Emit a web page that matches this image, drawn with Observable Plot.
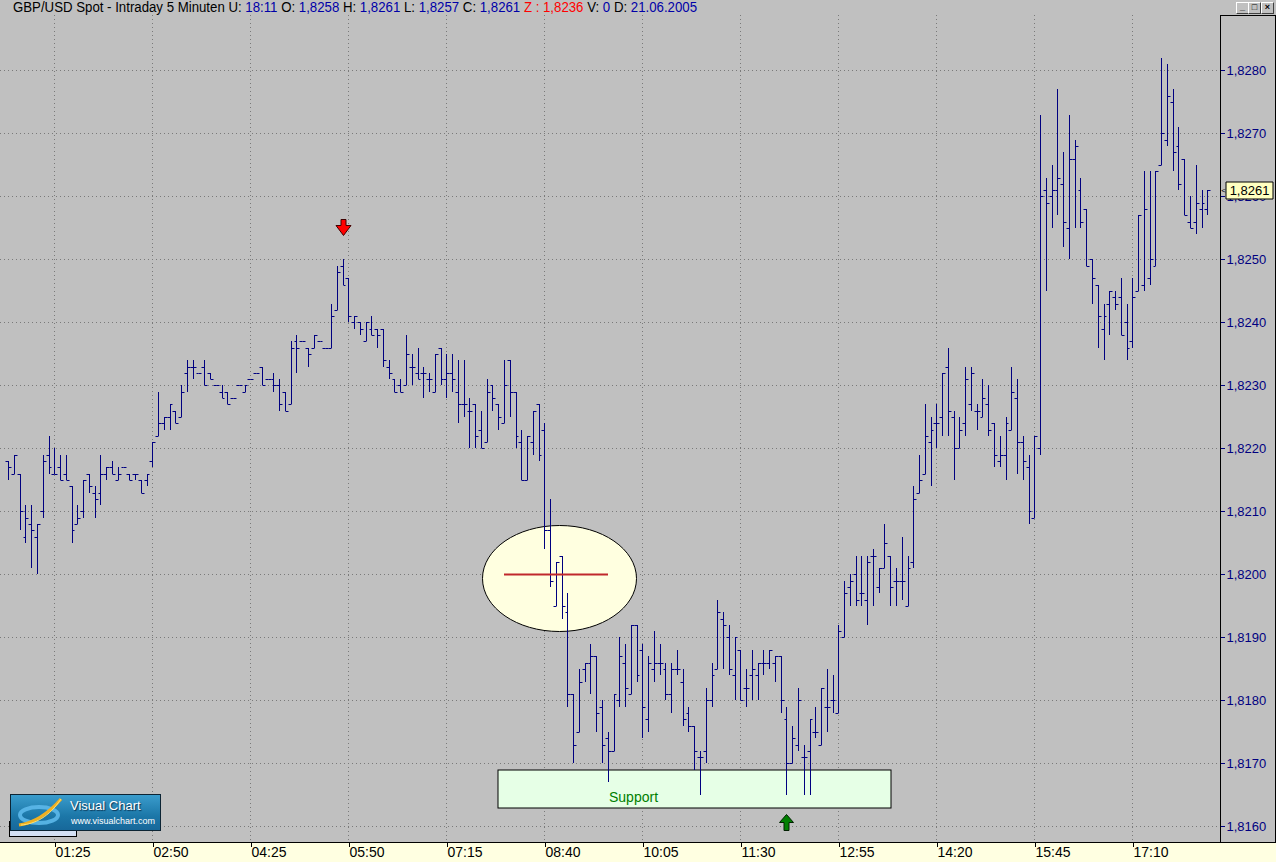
<!DOCTYPE html>
<html>
<head>
<meta charset="utf-8">
<script src="https://cdn.jsdelivr.net/npm/d3@7"></script>
<script src="https://cdn.jsdelivr.net/npm/@observablehq/plot@0.6"></script>
<style>
html,body{margin:0;padding:0;}
body{width:1276px;height:862px;overflow:hidden;background:#c0c0c0;position:relative;font-family:"Liberation Sans",Arial,sans-serif;}
#hdr{position:absolute;left:13px;top:0;height:15px;line-height:15px;font-size:14px;color:#000;white-space:nowrap;transform-origin:0 0;}
#hdr .v{color:#0000a8;}
#hdr .z{color:#ff0000;}
.btn{position:absolute;top:2px;width:11px;height:10px;background:#c0c0c0;border:1px solid;border-color:#fff #404040 #404040 #fff;font-size:9px;line-height:9px;text-align:center;color:#000;font-weight:bold;}
#rightbox{position:absolute;left:1220px;top:15px;width:54px;height:826px;border:1px solid #000;border-bottom:none;}
#bottom{position:absolute;left:0;top:842px;width:1276px;height:20px;background:#ffffe1;border-top:1px solid #000;}
#chart{position:absolute;left:0;top:15px;}
#lb{position:absolute;left:9px;top:821px;width:66px;height:14px;background:#d4e0f4;border:1px solid #000;}
#logo{position:absolute;left:10px;top:794px;width:149px;height:35px;border:1px solid #0c2434;background:linear-gradient(#3a9ccc,#1c77a8 60%,#17689a);color:#fff;}
#logo .t1{position:absolute;left:59px;top:4px;font-size:13px;line-height:14px;text-shadow:1px 1px 1px #0a3350;}
#logo .t2{position:absolute;left:60px;top:21px;font-size:9px;line-height:10px;}
#logo svg{position:absolute;left:0;top:0;}
</style>
</head>
<body>
<div id="rightbox"></div>
<div id="bottom"></div>
<div id="chart"></div>
<div id="hdr">GBP/USD Spot - Intraday 5 Minuten U: <span class="v">18:11</span> O: <span class="v">1,8258</span> H: <span class="v">1,8261</span> L: <span class="v">1,8257</span> C: <span class="v">1,8261</span> <span class="z">Z : 1,8236</span> V: <span class="v">0</span> D: <span class="v">21.06.2005</span></div>
<div class="btn" style="left:1236px">_</div>
<div class="btn" style="left:1248px">□</div>
<div class="btn" style="left:1261px">×</div>
<div id="lb"></div>
<div id="logo">
  <svg width="60" height="35" viewBox="0 0 60 35">
    <ellipse cx="28" cy="20" rx="19" ry="8" fill="none" stroke="#5cb8ea" stroke-width="4" opacity="0.9"/>
    <path d="M8,30 C22,28 36,20 50,4" fill="none" stroke="#f0b020" stroke-width="3"/>
    <path d="M10,30 C24,29 38,22 50,4" fill="none" stroke="#ffe070" stroke-width="1"/>
  </svg>
  <div class="t1">Visual Chart</div>
  <div class="t2">www.visualchart.com</div>
</div>
<script>
// ---- Data: GBP/USD 5-minute bars, 21.06.2005 ----
const opens = [1.8218,1.8216,1.8216,1.8206,1.8208,1.8206,1.8210,1.8219,1.8216,1.8217,
1.8216,1.8214,1.8208,1.8210,1.8216,1.8213,1.8213,1.8216,1.8217,1.8215,
1.8217,1.8216,1.8216,1.8215,1.8215,1.8218,1.8222,1.8224,1.8225,1.8226,
1.8225,1.8232,1.8233,1.8232,1.8233,1.8232,1.8230,1.8229,1.8229,1.8228,
1.8230,1.8229,1.8231,1.8232,1.8233,1.8231,1.8231,1.8230,1.8229,1.8227,
1.8237,1.8237,1.8236,1.8236,1.8237,1.8236,1.8236,1.8242,1.8249,1.8247,
1.8240,1.8240,1.8237,1.8239,1.8239,1.8239,1.8233,1.8231,1.8230,1.8230,
1.8233,1.8232,1.8232,1.8231,1.8229,1.8236,1.8231,1.8232,1.8229,1.8227,
1.8226,1.8227,1.8223,1.8221,1.8230,1.8227,1.8224,1.8234,1.8229,1.8221,
1.8215,1.8221,1.8227,1.8223,1.8207,1.8195,1.8203,1.8194,1.8181,1.8175,
1.8185,1.8186,1.8187,1.8179,1.8174,1.8172,1.8180,1.8186,1.8181,1.8192,
1.8188,1.8177,1.8185,1.8186,1.8185,1.8181,1.8185,1.8183,1.8178,1.8176,
1.8171,1.8172,1.8180,1.8185,1.8193,1.8190,1.8184,1.8188,1.8182,1.8184,
1.8184,1.8186,1.8186,1.8186,1.8187,1.8177,1.8170,1.8173,1.8171,1.8172,
1.8175,1.8173,1.8179,1.8180,1.8178,1.8190,1.8198,1.8200,1.8197,1.8196,
1.8203,1.8198,1.8201,1.8203,1.8199,1.8199,1.8195,1.8202,1.8213,1.8216,
1.8221,1.8224,1.8225,1.8233,1.8225,1.8220,1.8224,1.8227,1.8226,1.8225,
1.8227,1.8224,1.8218,1.8219,1.8223,1.8228,1.8221,1.8217,1.8209,1.8220,
1.8261,1.8260,1.8261,1.8262,1.8255,1.8266,1.8261,1.8258,1.8250,1.8246,
1.8239,1.8243,1.8244,1.8244,1.8240,1.8237,1.8245,1.8246,1.8247,1.8249,
1.8265,1.8269,1.8275,1.8268,1.8266,1.8256,1.8256,1.8258,1.8258];

const highs = [1.8218,1.8219,1.8216,1.8211,1.8211,1.8208,1.8219,1.8222,1.8220,1.8219,
1.8219,1.8214,1.8211,1.8215,1.8216,1.8214,1.8219,1.8217,1.8218,1.8217,
1.8217,1.8216,1.8216,1.8215,1.8216,1.8221,1.8229,1.8225,1.8227,1.8226,
1.8230,1.8234,1.8234,1.8232,1.8234,1.8232,1.8230,1.8230,1.8229,1.8228,
1.8230,1.8230,1.8231,1.8232,1.8233,1.8231,1.8232,1.8231,1.8229,1.8237,
1.8238,1.8237,1.8236,1.8238,1.8237,1.8236,1.8243,1.8249,1.8250,1.8247,
1.8241,1.8240,1.8240,1.8241,1.8239,1.8239,1.8234,1.8231,1.8231,1.8238,
1.8235,1.8236,1.8233,1.8232,1.8235,1.8236,1.8235,1.8235,1.8234,1.8234,
1.8228,1.8227,1.8226,1.8231,1.8230,1.8227,1.8234,1.8234,1.8229,1.8223,
1.8222,1.8226,1.8227,1.8224,1.8212,1.8202,1.8203,1.8197,1.8181,1.8185,
1.8186,1.8189,1.8187,1.8180,1.8175,1.8181,1.8190,1.8189,1.8192,1.8192,
1.8189,1.8187,1.8191,1.8189,1.8186,1.8186,1.8188,1.8185,1.8179,1.8176,
1.8172,1.8182,1.8186,1.8196,1.8194,1.8192,1.8190,1.8188,1.8185,1.8188,
1.8186,1.8188,1.8188,1.8187,1.8187,1.8179,1.8176,1.8182,1.8173,1.8177,
1.8179,1.8182,1.8185,1.8184,1.8192,1.8199,1.8200,1.8203,1.8203,1.8203,
1.8204,1.8201,1.8208,1.8203,1.8201,1.8206,1.8203,1.8214,1.8219,1.8227,
1.8225,1.8227,1.8232,1.8236,1.8226,1.8225,1.8233,1.8233,1.8227,1.8231,
1.8230,1.8224,1.8222,1.8225,1.8233,1.8231,1.8222,1.8219,1.8222,1.8273,
1.8263,1.8265,1.8277,1.8267,1.8273,1.8269,1.8263,1.8258,1.8250,1.8246,
1.8243,1.8245,1.8245,1.8247,1.8243,1.8247,1.8257,1.8264,1.8264,1.8264,
1.8282,1.8281,1.8277,1.8271,1.8266,1.8260,1.8265,1.8261,1.8261];

const lows = [1.8215,1.8216,1.8207,1.8205,1.8201,1.8200,1.8209,1.8216,1.8216,1.8215,
1.8215,1.8205,1.8208,1.8209,1.8213,1.8209,1.8211,1.8215,1.8216,1.8215,
1.8217,1.8215,1.8215,1.8213,1.8214,1.8217,1.8222,1.8223,1.8223,1.8224,
1.8225,1.8229,1.8231,1.8232,1.8230,1.8231,1.8230,1.8228,1.8227,1.8228,
1.8230,1.8229,1.8231,1.8232,1.8230,1.8231,1.8229,1.8226,1.8226,1.8227,
1.8232,1.8237,1.8233,1.8236,1.8237,1.8236,1.8236,1.8242,1.8246,1.8240,
1.8239,1.8238,1.8237,1.8238,1.8236,1.8233,1.8231,1.8229,1.8229,1.8230,
1.8230,1.8231,1.8228,1.8229,1.8229,1.8230,1.8228,1.8229,1.8224,1.8225,
1.8220,1.8220,1.8220,1.8221,1.8226,1.8223,1.8224,1.8225,1.8220,1.8215,
1.8215,1.8219,1.8218,1.8204,1.8198,1.8195,1.8193,1.8179,1.8170,1.8175,
1.8183,1.8181,1.8175,1.8170,1.8167,1.8172,1.8179,1.8179,1.8181,1.8183,
1.8174,1.8175,1.8183,1.8184,1.8180,1.8178,1.8184,1.8176,1.8175,1.8169,
1.8165,1.8170,1.8179,1.8185,1.8185,1.8184,1.8180,1.8180,1.8179,1.8180,
1.8180,1.8184,1.8185,1.8183,1.8178,1.8165,1.8170,1.8172,1.8165,1.8165,
1.8174,1.8173,1.8175,1.8178,1.8178,1.8190,1.8195,1.8195,1.8195,1.8192,
1.8195,1.8197,1.8201,1.8195,1.8195,1.8196,1.8195,1.8201,1.8213,1.8216,
1.8214,1.8220,1.8222,1.8222,1.8215,1.8220,1.8222,1.8226,1.8223,1.8225,
1.8222,1.8217,1.8217,1.8215,1.8223,1.8216,1.8215,1.8208,1.8209,1.8219,
1.8245,1.8255,1.8257,1.8252,1.8250,1.8255,1.8255,1.8249,1.8243,1.8236,
1.8234,1.8238,1.8242,1.8238,1.8234,1.8236,1.8245,1.8245,1.8246,1.8249,
1.8265,1.8268,1.8264,1.8261,1.8257,1.8255,1.8254,1.8255,1.8257];

const closes = [1.8217,1.8219,1.8210,1.8209,1.8207,1.8208,1.8218,1.8217,1.8216,1.8215,
1.8215,1.8207,1.8209,1.8215,1.8214,1.8212,1.8216,1.8217,1.8216,1.8216,
1.8217,1.8215,1.8216,1.8213,1.8216,1.8221,1.8224,1.8225,1.8227,1.8224,
1.8229,1.8233,1.8233,1.8232,1.8230,1.8231,1.8230,1.8228,1.8227,1.8228,
1.8230,1.8230,1.8231,1.8232,1.8230,1.8231,1.8230,1.8227,1.8226,1.8236,
1.8236,1.8237,1.8235,1.8238,1.8237,1.8236,1.8241,1.8248,1.8246,1.8241,
1.8241,1.8239,1.8240,1.8238,1.8238,1.8234,1.8232,1.8229,1.8229,1.8235,
1.8233,1.8231,1.8232,1.8231,1.8235,1.8231,1.8232,1.8231,1.8227,1.8227,
1.8226,1.8222,1.8220,1.8229,1.8228,1.8225,1.8230,1.8229,1.8222,1.8215,
1.8222,1.8226,1.8219,1.8207,1.8199,1.8202,1.8195,1.8181,1.8173,1.8183,
1.8186,1.8187,1.8178,1.8173,1.8172,1.8181,1.8187,1.8182,1.8192,1.8184,
1.8179,1.8186,1.8186,1.8186,1.8181,1.8185,1.8185,1.8177,1.8176,1.8172,
1.8171,1.8180,1.8184,1.8194,1.8192,1.8185,1.8190,1.8180,1.8182,1.8185,
1.8186,1.8186,1.8188,1.8187,1.8180,1.8170,1.8174,1.8180,1.8171,1.8177,
1.8175,1.8182,1.8179,1.8180,1.8191,1.8197,1.8199,1.8196,1.8197,1.8202,
1.8203,1.8201,1.8205,1.8198,1.8199,1.8199,1.8201,1.8212,1.8215,1.8222,
1.8223,1.8224,1.8232,1.8226,1.8220,1.8223,1.8231,1.8232,1.8226,1.8228,
1.8223,1.8219,1.8219,1.8224,1.8229,1.8221,1.8218,1.8210,1.8222,1.8260,
1.8259,1.8261,1.8263,1.8256,1.8266,1.8268,1.8256,1.8249,1.8247,1.8241,
1.8241,1.8245,1.8243,1.8238,1.8236,1.8244,1.8257,1.8258,1.8250,1.8264,
1.8270,1.8276,1.8267,1.8262,1.8257,1.8255,1.8259,1.8259,1.8261];

// time axis: bar index of each labelled tick, and its label
const tickBars = [8, 25, 42, 59, 76, 93, 110, 127, 144, 161, 178, 195];
const tickLabels = ["01:25","02:50","04:25","05:50","07:15","08:40","10:05","11:30","12:55","14:20","15:45","17:10"];
// price axis ticks
const yTicks = [1.8160,1.8170,1.8180,1.8190,1.8200,1.8210,1.8220,1.8230,1.8240,1.8250,1.8260,1.8270,1.8280];

// annotations (in bar-index / price units)
const supportZone = [{i1: 85, i2: 153.1, lo: 1.81629, hi: 1.81689, ti: 108.4, ty: 1.81647, label: "Support"}];
const ellipseNote = [{i: 95.5, y: 1.81995}];
const redLine = [{i1: 86.05, i2: 104.1, y: 1.8200}];
const sellSignal = [{i: 58}];
const buySignal = [{i: 135}];

// ---- build ----
const bars = opens.map((o, i) => ({i, open: o, high: highs[i], low: lows[i], close: closes[i]}));
const last = bars[bars.length - 1];
const fmt = v => v.toFixed(4).replace(".", ",");
const navy = "#000080";

const ellipseSymbol = {draw(ctx) {
  const rx = 77, ry = 53, k = 0.5523;
  ctx.moveTo(rx, 0);
  ctx.bezierCurveTo(rx, ry * k, rx * k, ry, 0, ry);
  ctx.bezierCurveTo(-rx * k, ry, -rx, ry * k, -rx, 0);
  ctx.bezierCurveTo(-rx, -ry * k, -rx * k, -ry, 0, -ry);
  ctx.bezierCurveTo(rx * k, -ry, rx, -ry * k, rx, 0);
  ctx.closePath();
}};
const downArrow = {draw(ctx) {
  ctx.moveTo(-2.5, -16); ctx.lineTo(2.5, -16); ctx.lineTo(2.5, -10); ctx.lineTo(7.5, -10);
  ctx.lineTo(0, 0); ctx.lineTo(-7.5, -10); ctx.lineTo(-2.5, -10); ctx.closePath();
}};
const upArrow = {draw(ctx) {
  ctx.moveTo(0, 0); ctx.lineTo(7, 8); ctx.lineTo(2.5, 8); ctx.lineTo(2.5, 16);
  ctx.lineTo(-2.5, 16); ctx.lineTo(-2.5, 8); ctx.lineTo(-7, 8); ctx.closePath();
}};
const boxSymbol = {draw(ctx) { ctx.rect(-23.5, -8.5, 47, 17); }};

const chart = Plot.plot({
  width: 1276,
  height: 847,
  marginLeft: 0, marginRight: 56, marginTop: 0, marginBottom: 20,
  style: {background: "transparent", fontFamily: "'Liberation Sans', Arial, sans-serif", overflow: "visible"},
  x: {type: "linear", domain: [0, 208], range: [8.2, 1207.3], round: true, label: null, axis: null},
  y: {type: "linear", domain: [1.8160, 1.8280], range: [811.4, 55.4], round: true, label: null, axis: null},
  marks: [
    Plot.gridY(yTicks, {stroke: "#7a7a7a", strokeOpacity: 1, strokeDasharray: "1,3"}),
    Plot.gridX(tickBars, {stroke: "#7a7a7a", strokeOpacity: 1, strokeDasharray: "1,3"}),
    Plot.rect(supportZone, {x1: "i1", x2: "i2", y1: "lo", y2: "hi", fill: "#e6ffe6", stroke: "black", strokeWidth: 1}),
    Plot.dot(ellipseNote, {x: "i", y: "y", symbol: ellipseSymbol, fill: "#ffffe0", stroke: "black", strokeWidth: 1}),
    Plot.ruleX(bars, {x: "i", y1: "low", y2: "high", stroke: navy, strokeWidth: 1}),
    Plot.link(bars, {x1: d => d.i - 0.5, x2: "i", y1: "open", y2: "open", stroke: navy, strokeWidth: 1}),
    Plot.link(bars, {x1: "i", x2: d => d.i + 0.5, y1: "close", y2: "close", stroke: navy, strokeWidth: 1}),
    Plot.ruleY(redLine, {y: "y", x1: "i1", x2: "i2", stroke: "#c0282c", strokeWidth: 2}),
    Plot.text(supportZone, {x: "ti", y: "ty", text: "label", fill: "#008000", fontSize: 14}),
    Plot.dot(sellSignal, {x: "i", y: d => highs[d.i], dy: -24, symbol: downArrow, fill: "#ff0000", stroke: "#400000", strokeWidth: 1}),
    Plot.dot(buySignal, {x: "i", y: d => lows[d.i], dy: 19, symbol: upArrow, fill: "#008000", stroke: "#002000", strokeWidth: 1}),
    Plot.axisY(yTicks, {anchor: "right", tickSize: 4, tickPadding: 2, tickFormat: fmt, fontSize: 13, color: "#000080"}),
    Plot.axisX(tickBars, {anchor: "bottom", tickSize: 5, tickPadding: 0, tickFormat: d => tickLabels[tickBars.indexOf(d)], textAnchor: "start", dx: 1, fontSize: 14, color: "black"}),
    Plot.dot([last], {x: "i", y: "close", dx: 42, symbol: boxSymbol, fill: "#ffffc0", stroke: "black", strokeWidth: 1}),
    Plot.text([last], {x: "i", y: "close", dx: 42, text: d => fmt(d.close), fontSize: 13, fill: "black"}),
    Plot.text([last], {x: "i", y: "close", dx: 16, text: () => "<", fontSize: 8, fill: "black"})
  ]
});
document.getElementById("chart").appendChild(chart);

// fit header text to the reference width
const hdr = document.getElementById("hdr");
const w = hdr.getBoundingClientRect().width;
hdr.style.transform = `scaleX(${684 / w})`;
</script>
</body>
</html>
